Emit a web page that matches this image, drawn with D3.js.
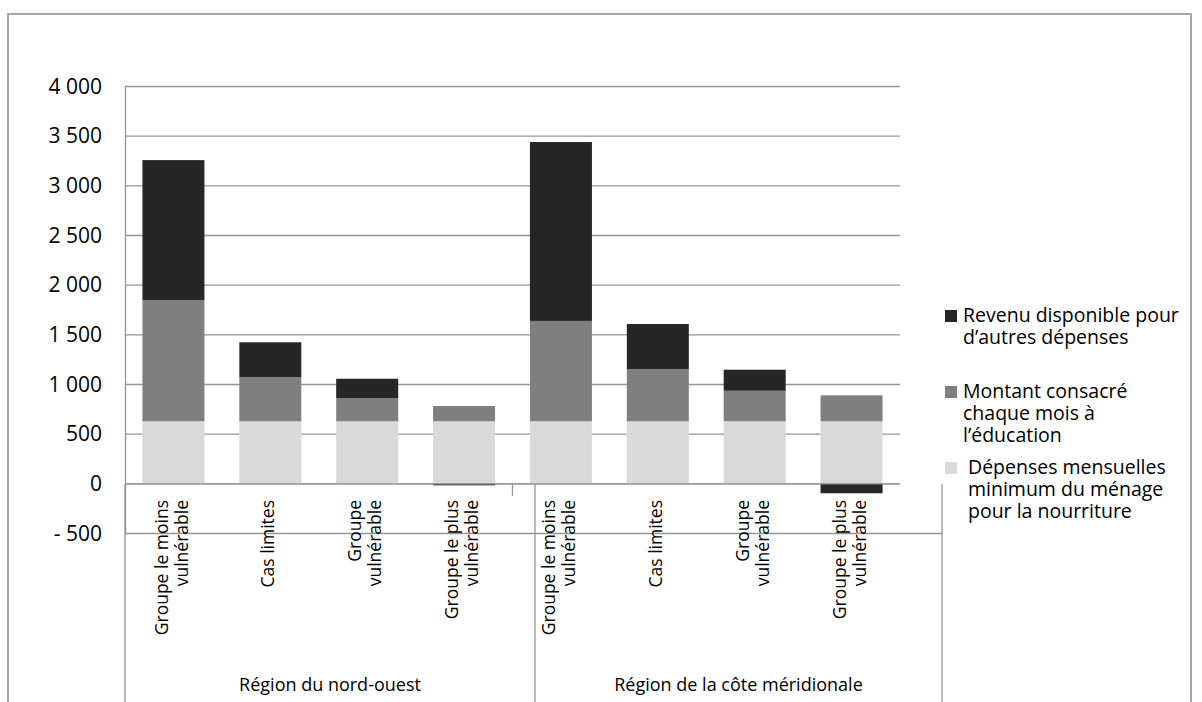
<!DOCTYPE html>
<html lang="fr">
<head>
<meta charset="utf-8">
<script src="https://cdn.jsdelivr.net/npm/d3@7"></script>
<style>
  html, body { margin: 0; padding: 0; background: #fff; }
  svg { display: block; }
</style>
</head>
<body>
<svg id="chart" width="1202" height="702"></svg>
<script>
// Household budget per group, in two regions (monthly amounts)
const regions = ["Région du nord-ouest", "Région de la côte méridionale"];
const groups = [
  "Groupe le moins\nvulnérable",
  "Cas limites",
  "Groupe\nvulnérable",
  "Groupe le plus\nvulnérable"
];
const seriesNames = [
  "Dépenses mensuelles\nminimum du ménage\npour la nourriture",
  "Montant consacré\nchaque mois à\nl’éducation",
  "Revenu disponible pour\nd’autres dépenses"
];
const foodValues = [630, 630, 630, 630, 630, 630, 630, 630];
const educationValues = [1220, 445, 234, 153, 1010, 523, 307, 261];
const incomeValues = [1409, 350, 194, -15, 1801, 456, 212, -95];
const yTicks = [-500, 0, 500, 1000, 1500, 2000, 2500, 3000, 3500, 4000];
const yTickLabels = ["- 500", "0", "500", "1 000", "1 500", "2 000", "2 500", "3 000", "3 500", "4 000"];
const colors = ["#d9d9d9", "#7f7f7f", "#262626"];

const svg = d3.select("#chart");
const font = "'Open Sans', 'DejaVu Sans', sans-serif";

// Plot geometry
const plotLeft = 125, plotRight = 900, plotTop = 86.5, plotBottom = 533.5;
const boxRight = 942;
const lineColor = "#959595";

// Outer frame of the chart area
svg.append("rect")
  .attr("x", 8).attr("y", 14)
  .attr("width", 1183).attr("height", 720)
  .attr("fill", "none").attr("stroke", "#a6a6a6").attr("stroke-width", 2);

const rows = foodValues.map((v, i) => ({
  key: i,
  region: regions[Math.floor(i / groups.length)],
  group: groups[i % groups.length],
  food: v,
  education: educationValues[i],
  income: incomeValues[i]
}));

const x = d3.scaleBand()
  .domain(rows.map(d => d.key))
  .range([plotLeft, plotRight])
  .paddingInner(0.36)
  .paddingOuter(0.18);

const y = d3.scaleLinear().domain([-500, 4000]).range([plotBottom, plotTop]);

// Horizontal gridlines
svg.append("g")
  .selectAll("line")
  .data(yTicks)
  .join("line")
  .attr("x1", plotLeft).attr("x2", d => d === -500 ? boxRight : plotRight)
  .attr("y1", d => y(d)).attr("y2", d => y(d))
  .attr("stroke", lineColor).attr("stroke-width", 1.3);

// Stacked bars (negative values stacked below zero)
const stack = d3.stack()
  .keys(["food", "education", "income"])
  .offset(d3.stackOffsetDiverging);
const layers = stack(rows);

svg.append("g")
  .selectAll("g")
  .data(layers)
  .join("g")
  .attr("fill", (d, i) => colors[i])
  .selectAll("rect")
  .data(d => d)
  .join("rect")
  .attr("x", d => x(d.data.key))
  .attr("width", x.bandwidth())
  .attr("y", d => y(Math.max(d[0], d[1])))
  .attr("height", d => Math.abs(y(d[0]) - y(d[1])));

// Y axis
const yAxis = d3.axisLeft(y)
  .tickValues(yTicks)
  .tickSize(0)
  .tickPadding(23)
  .tickFormat((d, i) => yTickLabels[i]);
const yg = svg.append("g").attr("transform", `translate(${plotLeft},0)`).call(yAxis);
yg.select(".domain").attr("stroke", lineColor).attr("stroke-width", 1.3);
yg.selectAll("text")
  .attr("font-family", font).attr("font-size", 21).attr("fill", "#000");

// Category axis at zero
const y0 = y(0);
svg.append("line")
  .attr("x1", plotLeft).attr("x2", plotRight)
  .attr("y1", y0).attr("y2", y0)
  .attr("stroke", lineColor).attr("stroke-width", 1.3);

// Tick between the two regions
const midTick = x(4) - x.step() * x.paddingInner() / 2;
svg.append("line")
  .attr("x1", midTick).attr("x2", midTick)
  .attr("y1", y0).attr("y2", y0 + 12)
  .attr("stroke", lineColor).attr("stroke-width", 1.3);

// Label box lines
[plotLeft, 535, boxRight].forEach(xx => {
  svg.append("line")
    .attr("x1", xx).attr("x2", xx)
    .attr("y1", y0).attr("y2", 702)
    .attr("stroke", lineColor).attr("stroke-width", 1.3);
});

// Rotated group labels (one text per category, one tspan per line)
const labelG = svg.append("g")
  .attr("font-family", font).attr("font-size", 17.5).attr("fill", "#000");
rows.forEach(d => {
  const lines = d.group.split("\n");
  const cx = x(d.key) + x.bandwidth() / 2 - 2;
  const firstX = cx - (lines.length - 1) / 2 * 20;
  const t = labelG.append("text")
    .attr("transform", `translate(${firstX},500) rotate(-90)`)
    .attr("text-anchor", "end");
  lines.forEach((ln, j) => {
    t.append("tspan")
      .attr("x", 0)
      .attr("y", j * 20)
      .attr("dy", "0.35em")
      .text(ln);
  });
});

// Region labels
const regionSpans = [[plotLeft, 535], [535, boxRight]];
regions.forEach((r, i) => {
  svg.append("text")
    .attr("x", (regionSpans[i][0] + regionSpans[i][1]) / 2)
    .attr("y", 691)
    .attr("text-anchor", "middle")
    .attr("font-family", font).attr("font-size", 18).attr("fill", "#000")
    .text(r);
});

// Legend (top entry is the top segment)
const legendEntries = [
  { name: seriesNames[2], color: colors[2], baseline: 322, tx: 963 },
  { name: seriesNames[1], color: colors[1], baseline: 398, tx: 963 },
  { name: seriesNames[0], color: colors[0], baseline: 474, tx: 968 }
];
const lg = svg.append("g").attr("font-family", font).attr("font-size", 19.5).attr("fill", "#000");
legendEntries.forEach(e => {
  lg.append("rect")
    .attr("x", 945).attr("y", e.baseline - 12)
    .attr("width", 12).attr("height", 12)
    .attr("fill", e.color);
  const t = lg.append("text");
  e.name.split("\n").forEach((ln, j) => {
    t.append("tspan")
      .attr("x", e.tx).attr("y", e.baseline + j * 22)
      .text(ln);
  });
});
</script>
</body>
</html>
